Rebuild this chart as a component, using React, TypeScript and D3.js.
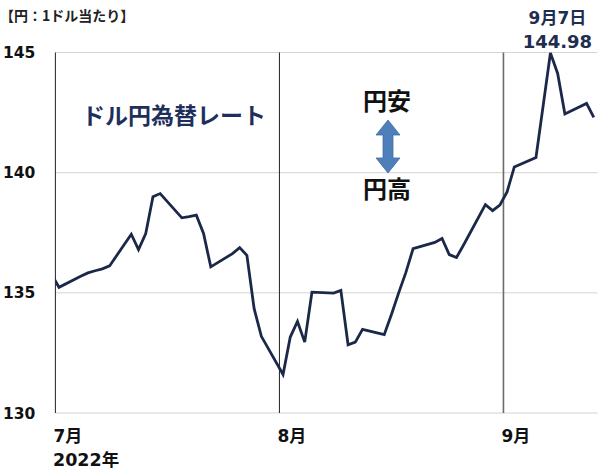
import React from "react";
import * as d3 from "d3";

// USD/JPY daily close, 2022
const dates = [
  "2022-06-30", "2022-07-01", "2022-07-04", "2022-07-05", "2022-07-06", "2022-07-07", "2022-07-08",
  "2022-07-11", "2022-07-12", "2022-07-13", "2022-07-14", "2022-07-15",
  "2022-07-18", "2022-07-19", "2022-07-20", "2022-07-21", "2022-07-22",
  "2022-07-25", "2022-07-26", "2022-07-27", "2022-07-28", "2022-07-29",
  "2022-08-01", "2022-08-02", "2022-08-03", "2022-08-04", "2022-08-05",
  "2022-08-08", "2022-08-09", "2022-08-10", "2022-08-11", "2022-08-12",
  "2022-08-15", "2022-08-16", "2022-08-17", "2022-08-18", "2022-08-19",
  "2022-08-22", "2022-08-23", "2022-08-24", "2022-08-25", "2022-08-26",
  "2022-08-29", "2022-08-30", "2022-08-31", "2022-09-01", "2022-09-02",
  "2022-09-05", "2022-09-06", "2022-09-07", "2022-09-08", "2022-09-09",
  "2022-09-12", "2022-09-13",
];
const rates = [
  135.75, 135.23, 135.69, 135.83, 135.92, 136.0, 136.12,
  137.44, 136.8, 137.47, 139.0, 139.13,
  138.12, 138.17, 138.23, 137.47, 136.08,
  136.63, 136.88, 136.56, 134.34, 133.19,
  131.6, 133.16, 133.81, 132.95, 135.03,
  134.99, 135.1, 132.84, 132.95, 133.48,
  133.26, 134.1, 135.0, 135.85, 136.84,
  137.1, 137.26, 136.59, 136.47, 137.0,
  138.67, 138.42, 138.65, 139.2, 140.24,
  140.63, 142.8, 144.98, 144.13, 142.44,
  142.88, 142.3,
];
const yTicks = [130, 135, 140, 145];
const monthStarts = ["2022-07-01", "2022-08-01", "2022-09-01"];
const monthLabels = ["7月", "8月", "9月"];
const yearLabel = "2022年";
const unitLabel = "【円：1ドル当たり】";
const title = "ドル円為替レート";
const peakDate = "9月7日";
const peakValue = "144.98";

const parse = (s: string) => {
  const [y, m, d] = s.split("-").map(Number);
  return new Date(y, m - 1, d);
};
const halfDayBefore = (s: string) => d3.timeHour.offset(parse(s), -12);

const W = 600;
const H = 471;
const FONT = "'DejaVu Sans', 'Noto Sans CJK JP', sans-serif";
const JP = "'Noto Sans CJK JP', 'DejaVu Sans', sans-serif";

export default function App() {
  const data = dates.map((d, i) => ({ date: parse(d), value: rates[i] }));

  const x = d3
    .scaleTime()
    .domain([halfDayBefore("2022-07-01"), d3.timeHour.offset(parse("2022-09-13"), 12)])
    .range([55.4, 597.4]);
  const y = d3.scaleLinear().domain([130, 145]).range([413, 52.5]);

  const line = d3
    .line<{ date: Date; value: number }>()
    .x((d) => x(d.date))
    .y((d) => y(d.value));

  const [x0, x1] = x.range();
  const peak = data[d3.maxIndex(data, (d) => d.value)];

  return (
    <svg
      width={W}
      height={H}
      style={{ position: "absolute", left: 0, top: 0, background: "#fff" }}
    >
      <defs>
        <clipPath id="plot">
          <rect x={x0} y={0} width={x1 - x0 + 4} height={H} />
        </clipPath>
      </defs>

      {/* horizontal gridlines */}
      {yTicks.map((t) => (
        <line key={t} x1={x0} x2={x1} y1={y(t)} y2={y(t)} stroke="#d4d4d4" strokeWidth={1} />
      ))}

      {/* month separators */}
      {monthStarts.map((m, i) => (
        <line
          key={m}
          x1={x(halfDayBefore(m))}
          x2={x(halfDayBefore(m))}
          y1={y(145)}
          y2={y(130)}
          stroke={i === 2 ? "#6b6b6b" : "#222"}
          strokeWidth={i === 2 ? 1.6 : 1}
        />
      ))}

      {/* y tick labels */}
      {yTicks.map((t) => (
        <text
          key={t}
          x={3}
          y={y(t)}
          dy="0.36em"
          fontFamily={FONT}
          fontWeight="bold"
          fontSize={15.5}
          fill="#111"
        >
          {t}
        </text>
      ))}

      {/* month labels */}
      {monthStarts.map((m, i) => (
        <text
          key={m}
          x={x(halfDayBefore(m)) - 2}
          y={442}
          fontFamily={FONT}
          fontWeight="bold"
          fontSize={17}
          fill="#111"
        >
          {monthLabels[i]}
        </text>
      ))}
      <text x={53} y={466} fontFamily={FONT} fontWeight="bold" fontSize={17.5} fill="#111">
        {yearLabel}
      </text>

      <text x={0} y={21} fontFamily={JP} fontWeight="bold" fontSize={14} fill="#222">
        {unitLabel}
      </text>

      {/* rate line */}
      <path
        d={line(data) ?? ""}
        fill="none"
        stroke="#1b2849"
        strokeWidth={2.8}
        strokeLinejoin="miter"
        clipPath="url(#plot)"
      />

      {/* title */}
      <text x={82} y={124} fontFamily={JP} fontWeight="bold" fontSize={23} fill="#1f2f5c">
        {title}
      </text>

      {/* 円安 / 円高 with double arrow */}
      <text x={387} y={110} textAnchor="middle" fontFamily={JP} fontWeight="bold" fontSize={24} fill="#111">
        円安
      </text>
      <path
        d="M388,120 L400,135 L393,135 L393,158 L400,158 L388,173 L376,158 L383,158 L383,135 L376,135 Z"
        fill="#4f7fba"
        stroke="#3f6ea6"
        strokeWidth={0.8}
      />
      <text x={387} y={198} textAnchor="middle" fontFamily={JP} fontWeight="bold" fontSize={24} fill="#111">
        円高
      </text>

      {/* peak annotation */}
      <text
        x={x(peak.date) + 7}
        y={24}
        textAnchor="middle"
        fontFamily={FONT}
        fontWeight="bold"
        fontSize={17}
        fill="#1f2d50"
      >
        {peakDate}
      </text>
      <text
        x={x(peak.date) + 7}
        y={48}
        textAnchor="middle"
        fontFamily={FONT}
        fontWeight="bold"
        fontSize={18}
        fill="#1f2d50"
      >
        {peakValue}
      </text>
    </svg>
  );
}
